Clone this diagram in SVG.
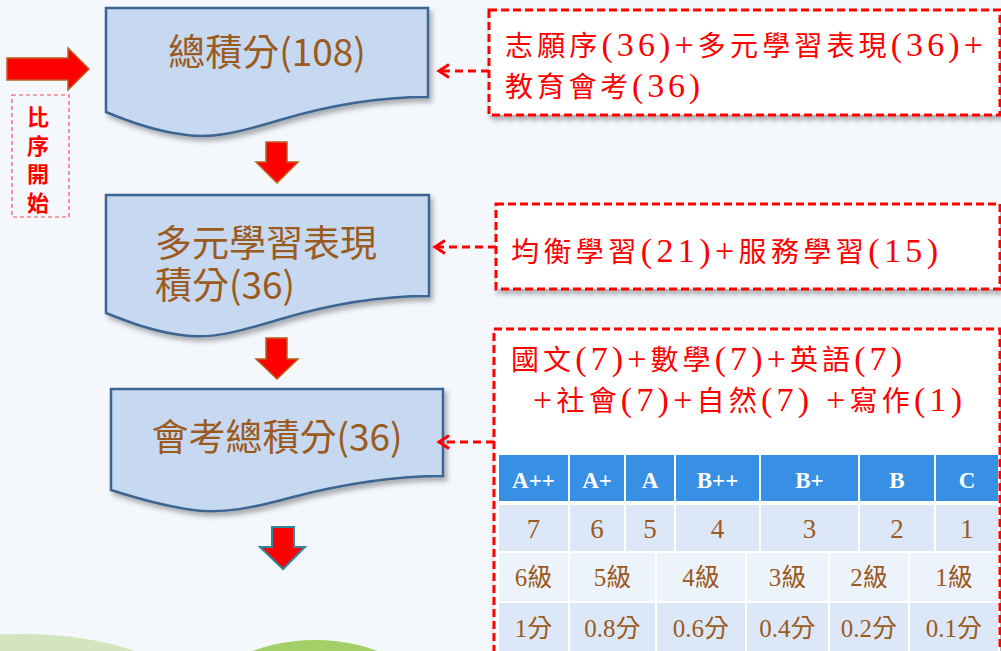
<svg xmlns="http://www.w3.org/2000/svg" width="1001" height="651" viewBox="0 0 1001 651">
<defs>
<style>
.doc{fill:#c6d9f0;stroke:#3d6592;stroke-width:2.5;filter:url(#sh)}
.big{font-family:"Noto Sans CJK TC","Noto Sans",sans-serif;font-size:37px;fill:#9b5a1e}
.note{fill:#ffffff;stroke:#ff0000;stroke-width:3;stroke-dasharray:8 4;filter:url(#sh2)}
.ntext{font-family:"Liberation Serif","Noto Sans CJK TC",serif;font-size:28px;fill:#ff0000}
.lat{font-size:34px}
.conn{stroke:#ff0000;stroke-width:3;stroke-dasharray:8 5;fill:none;marker-end:url(#chev)}
.blk{fill:#ff0000;stroke:#b8621b;stroke-width:1.5}
.th{fill:#3790e4}
.td1{fill:#dce8f7}
.td2{fill:#edf3fb}
.tht{font-family:"Liberation Serif",serif;font-weight:bold;font-size:23px;fill:#ffffff;text-anchor:middle}
.tdn{font-family:"Liberation Serif","Noto Sans CJK TC",serif;font-size:27px;fill:#9b5a1e;text-anchor:middle}
.tdt{font-family:"Liberation Serif","Noto Sans CJK TC",serif;font-size:25px;fill:#9b5a1e;text-anchor:middle}
.lbl{font-family:"Noto Sans CJK TC","Noto Sans",sans-serif;font-size:22px;font-weight:bold;fill:#ff0000}
</style>
<filter id="sh" x="-10%" y="-10%" width="130%" height="140%">
<feDropShadow dx="3" dy="4" stdDeviation="2.5" flood-color="#000" flood-opacity="0.3"/>
</filter>
<filter id="sh2" x="-10%" y="-10%" width="130%" height="140%">
<feDropShadow dx="2" dy="4" stdDeviation="2.5" flood-color="#000" flood-opacity="0.3"/>
</filter>
<marker id="chev" markerUnits="userSpaceOnUse" markerWidth="14" markerHeight="16" viewBox="-12 -8 14 16" refX="0" refY="0" orient="auto" overflow="visible">
<path d="M-10,-6.5 L0,0 L-10,6.5" fill="none" stroke="#ff0000" stroke-width="3" stroke-dasharray="none"/>
</marker>
</defs>

<rect x="0" y="0" width="1001" height="651" fill="#f4f7fc"/>
<g id="background-hills">
<ellipse cx="20" cy="690" rx="160" ry="56" fill="#d3e5be"/>
<ellipse cx="315" cy="702" rx="110" ry="62" fill="#a3cf68"/>
</g>

<g id="start-arrow">
<polygon class="blk" points="7,58 68,58 68,48 89,69 68,90 68,80 7,80"/>
</g>
<g id="start-label">
<rect x="12" y="95" width="57" height="122" fill="none" stroke="#e9535c" stroke-width="1.2" stroke-dasharray="4 3"/>
<text class="lbl" x="38" y="106" writing-mode="vertical-rl" letter-spacing="6.5">比序開始</text>
</g>

<g id="node-total">
<path class="doc" d="M106,8 H428 V97 C380,97 330,105 280,120 C240,132 210,140 180,134 C150,130 125,120 106,112 Z"/>
<text class="big" x="267" y="66" text-anchor="middle">總積分(108)</text>
</g>
<g id="arrow-1">
<polygon class="blk" points="266,142 287,142 287,162 298,162 277,183 256,162 266,162"/>
</g>

<g id="node-multi">
<path class="doc" d="M106,195 H429 V296 C381,296 331,304 281,319 C241,331 211,340 181,335 C151,331 126,321 106,313 Z"/>
<text class="big"><tspan x="155" y="257">多元學習表現</tspan><tspan x="155" y="299">積分(36)</tspan></text>
</g>
<g id="arrow-2">
<polygon class="blk" points="266,338 287,338 287,359 298,359 277,379 256,359 266,359"/>
</g>

<g id="node-exam">
<path class="doc" d="M111,389 H443 V476 C393,476 343,484 293,497 C253,508 223,514 193,510 C163,506 136,498 111,490 Z"/>
<text class="big" x="277" y="451" text-anchor="middle">會考總積分(36)</text>
</g>
<g id="arrow-3">
<polygon points="272,527 294,527 294,547 305,547 283,569 260,547 272,547" fill="#ff0000" stroke="#31859c" stroke-width="2"/>
</g>

<g id="note-total">
<rect class="note" x="489" y="10" width="511" height="105"/>
<text class="ntext" x="505" y="56" textLength="478" lengthAdjust="spacing">志願序<tspan class="lat">(36)+</tspan>多元學習表現<tspan class="lat">(36)+</tspan></text>
<text class="ntext" x="505" y="97" textLength="195" lengthAdjust="spacing">教育會考<tspan class="lat">(36)</tspan></text>
</g>

<g id="note-multi">
<rect class="note" x="496" y="204" width="504" height="85"/>
<text class="ntext" x="511" y="262" textLength="427" lengthAdjust="spacing">均衡學習<tspan class="lat">(21)+</tspan>服務學習<tspan class="lat">(15)</tspan></text>
</g>

<g id="note-exam">
<rect class="note" x="494" y="329" width="506" height="340"/>
<text class="ntext" x="511" y="370" textLength="391" lengthAdjust="spacing">國文<tspan class="lat">(7)+</tspan>數學<tspan class="lat">(7)+</tspan>英語<tspan class="lat">(7)</tspan></text>
<text class="ntext" x="533" y="411" textLength="429" lengthAdjust="spacing"><tspan class="lat">+</tspan>社會<tspan class="lat">(7)+</tspan>自然<tspan class="lat">(7) +</tspan>寫作<tspan class="lat">(1)</tspan></text>
<g id="grade-table">
<rect class="th" x="499" y="455" width="69" height="46"/>
<rect class="th" x="570" y="455" width="54" height="46"/>
<rect class="th" x="626" y="455" width="48" height="46"/>
<rect class="th" x="676" y="455" width="83" height="46"/>
<rect class="th" x="761" y="455" width="97" height="46"/>
<rect class="th" x="860" y="455" width="74" height="46"/>
<rect class="th" x="936" y="455" width="62" height="46"/>
<text class="tht" x="533.5" y="488">A++</text>
<text class="tht" x="597" y="488">A+</text>
<text class="tht" x="650" y="488">A</text>
<text class="tht" x="717.5" y="488">B++</text>
<text class="tht" x="809.5" y="488">B+</text>
<text class="tht" x="897" y="488">B</text>
<text class="tht" x="967" y="488">C</text>

<rect class="td1" x="499" y="505" width="69" height="46"/>
<rect class="td1" x="570" y="505" width="54" height="46"/>
<rect class="td1" x="626" y="505" width="48" height="46"/>
<rect class="td1" x="676" y="505" width="83" height="46"/>
<rect class="td1" x="761" y="505" width="97" height="46"/>
<rect class="td1" x="860" y="505" width="74" height="46"/>
<rect class="td1" x="936" y="505" width="62" height="46"/>
<text class="tdn" x="533.5" y="538">7</text>
<text class="tdn" x="597" y="538">6</text>
<text class="tdn" x="650" y="538">5</text>
<text class="tdn" x="717.5" y="538">4</text>
<text class="tdn" x="809.5" y="538">3</text>
<text class="tdn" x="897" y="538">2</text>
<text class="tdn" x="967" y="538">1</text>

<rect class="td2" x="499" y="553" width="69" height="48"/>
<rect class="td2" x="570" y="553" width="85" height="48"/>
<rect class="td2" x="657" y="553" width="88" height="48"/>
<rect class="td2" x="747" y="553" width="81" height="48"/>
<rect class="td2" x="830" y="553" width="78" height="48"/>
<rect class="td2" x="910" y="553" width="88" height="48"/>
<text class="tdt" x="533.5" y="586">6級</text>
<text class="tdt" x="612.5" y="586">5級</text>
<text class="tdt" x="701" y="586">4級</text>
<text class="tdt" x="787.5" y="586">3級</text>
<text class="tdt" x="869" y="586">2級</text>
<text class="tdt" x="954" y="586">1級</text>

<rect class="td1" x="499" y="603" width="69" height="48"/>
<rect class="td1" x="570" y="603" width="85" height="48"/>
<rect class="td1" x="657" y="603" width="88" height="48"/>
<rect class="td1" x="747" y="603" width="81" height="48"/>
<rect class="td1" x="830" y="603" width="78" height="48"/>
<rect class="td1" x="910" y="603" width="88" height="48"/>
<text class="tdt" x="533.5" y="637">1分</text>
<text class="tdt" x="612.5" y="637">0.8分</text>
<text class="tdt" x="701" y="637">0.6分</text>
<text class="tdt" x="787.5" y="637">0.4分</text>
<text class="tdt" x="869" y="637">0.2分</text>
<text class="tdt" x="954" y="637">0.1分</text>
</g>
</g>

<g id="connectors">
<path class="conn" d="M489,71 H439"/>
<path class="conn" d="M496,247 H435"/>
<path class="conn" d="M494,442 H439"/>
</g>
</svg>
